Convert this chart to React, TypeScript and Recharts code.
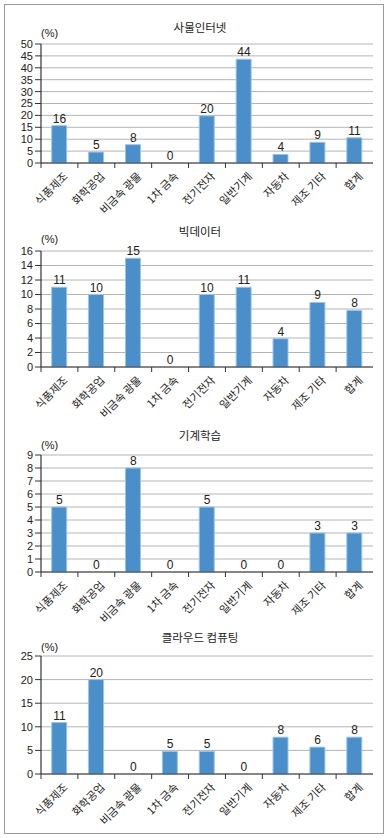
import React from 'react';
import { ComposedChart, Bar, Scatter, XAxis, YAxis, CartesianGrid } from 'recharts';

const categories = ['식품제조', '화학공업', '비금속 광물', '1차 금속', '전기전자', '일반기계', '자동차', '제조 기타', '합계'];

const iotValues = [15.7, 4.6, 7.7, 0, 19.8, 43.6, 3.6, 8.7, 10.6];
const bigDataValues = [11, 10, 15, 0, 10, 11, 3.9, 8.9, 7.8];
const mlValues = [5, 0, 8, 0, 5, 0, 0, 3, 3];
const cloudValues = [10.9, 20, 0, 4.8, 4.8, 0, 7.8, 5.7, 7.8];

const iotTicks = [0, 5, 10, 15, 20, 25, 30, 35, 40, 45, 50];
const bigDataTicks = [0, 2, 4, 6, 8, 10, 12, 14, 16];
const mlTicks = [0, 1, 2, 3, 4, 5, 6, 7, 8, 9];
const cloudTicks = [0, 5, 10, 15, 20, 25];

const titles = ['사물인터넷', '빅데이터', '기계학습', '클라우드 컴퓨팅'];
const unitLabel = '(%)';

const CHART_W = 389;
const M_LEFT = 11;
const Y_W = 30;
const M_RIGHT = 16;
const X_H = 62;
const PLOT_W = CHART_W - M_LEFT - Y_W - M_RIGHT;
const BAND = PLOT_W / categories.length;

const NUM_FONT = "'Liberation Sans Narrow', 'Liberation Sans', Arial, sans-serif";
const KR_FONT = "'Noto Sans CJK KR', sans-serif";

const XTick = (props: any) => {
  const { x, y, payload } = props;
  return (
    <g transform={`translate(${x},${y})`}>
      <line x1={-BAND / 2} x2={-BAND / 2} y1={0} y2={5} stroke="#333" strokeWidth={1} />
      <text
        x={0}
        y={0}
        transform="translate(9,14) rotate(-45)"
        textAnchor="end"
        fontSize={11}
        fontFamily={KR_FONT}
        fill="#222"
      >
        {payload.value}
      </text>
    </g>
  );
};

const ValueLabelShape = (p: any) => {
  const { cx, cy, payload } = p;
  if (cx == null || cy == null) return <g />;
  return (
    <text
      x={Number(cx)}
      y={Number(cy) - 3}
      textAnchor="middle"
      fontSize={12}
      fill="#222"
      fontFamily={NUM_FONT}
    >
      {String(Math.round(Number(payload.value)))}
    </text>
  );
};

type PanelProps = {
  title: string;
  values: number[];
  ticks: number[];
  top: number;
  plotH: number;
  titleY: number;
  unitY: number;
};

const Panel = ({ title, values, ticks, top, plotH, titleY, unitY }: PanelProps) => {
  const rows = categories.map((name, i) => ({ name, value: values[i] }));
  const max = ticks[ticks.length - 1];
  const h = 30 + plotH + X_H;
  return (
    <div style={{ position: 'absolute', left: 0, top, width: CHART_W, height: h }}>
      <div
        style={{
          position: 'absolute',
          left: 100,
          width: 200,
          top: titleY - 8,
          lineHeight: '16px',
          textAlign: 'center',
          fontFamily: KR_FONT,
          fontSize: 11.5,
          color: '#222',
        }}
      >
        {title}
      </div>
      <div
        style={{
          position: 'absolute',
          left: 41,
          top: unitY - 7,
          lineHeight: '14px',
          fontFamily: NUM_FONT,
          fontSize: 11,
          color: '#222',
        }}
      >
        {unitLabel}
      </div>
      <ComposedChart
        width={CHART_W}
        height={h}
        data={rows}
        margin={{ top: 30, right: M_RIGHT, left: M_LEFT, bottom: 0 }}
        barCategoryGap="29%"
      >
        <CartesianGrid vertical={false} stroke="#b4b4b4" strokeWidth={1} />
        <XAxis
          dataKey="name"
          height={X_H}
          interval={0}
          tickLine={false}
          tickSize={0}
          tickMargin={0}
          axisLine={{ stroke: '#333', strokeWidth: 1.2 }}
          tick={<XTick />}
        />
        <XAxis
          xAxisId="top"
          dataKey="name"
          orientation="top"
          height={0}
          tick={false}
          tickLine={false}
          axisLine={{ stroke: '#444', strokeWidth: 1.2 }}
        />
        <YAxis
          width={Y_W}
          domain={[0, max]}
          ticks={ticks}
          interval={0}
          tickSize={6}
          tickMargin={2}
          tickLine={{ stroke: '#333' }}
          axisLine={{ stroke: '#333', strokeWidth: 1.2 }}
          tick={{ fontSize: 11, fill: '#222', fontFamily: NUM_FONT }}
        />
        <YAxis
          yAxisId="right"
          orientation="right"
          width={0}
          domain={[0, max]}
          ticks={ticks}
          tick={false}
          tickLine={false}
          axisLine={{ stroke: '#444', strokeWidth: 1.2 }}
        />
        <Bar dataKey="value" fill="#4a8fca" stroke="#9cc4e8" strokeWidth={1} isAnimationActive={false} />
        <Scatter dataKey="value" shape={<ValueLabelShape />} isAnimationActive={false} />
      </ComposedChart>
    </div>
  );
};

export default function App() {
  return (
    <div style={{ position: 'absolute', left: 0, top: 0, width: 389, height: 838, background: '#fff' }}>
      <div
        style={{
          position: 'absolute',
          left: 4,
          top: 4,
          width: 380,
          height: 830,
          border: '1px solid #9a9a9a',
          boxSizing: 'border-box',
        }}
      />
      <Panel title={titles[0]} values={iotValues} ticks={iotTicks} top={14} plotH={119} titleY={13} unitY={19} />
      <Panel title={titles[1]} values={bigDataValues} ticks={bigDataTicks} top={221} plotH={116} titleY={10} unitY={18} />
      <Panel title={titles[2]} values={mlValues} ticks={mlTicks} top={425} plotH={117} titleY={10} unitY={20} />
      <Panel title={titles[3]} values={cloudValues} ticks={cloudTicks} top={626} plotH={118} titleY={11} unitY={21} />
    </div>
  );
}
